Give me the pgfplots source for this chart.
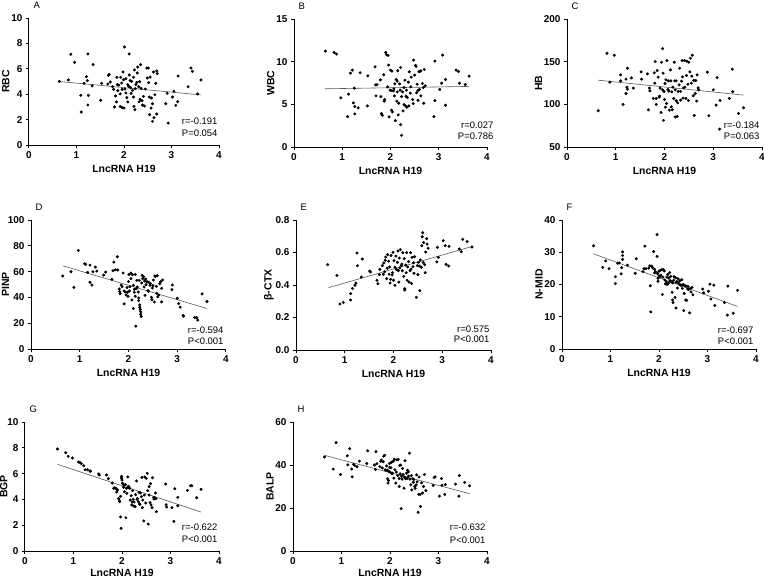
\documentclass[border=0pt]{standalone}
\usepackage{pgfplots}
\pgfplotsset{compat=1.18}
\usepackage{fontspec}
\setmainfont{Liberation Sans}
\pgfplotsset{
  panel/.style={
    scale only axis,
    axis lines*=left,
    axis line style={line width=1bp,-},
    xmin=0,xmax=4,xtick={0,1,2,3,4},
    tick align=outside,
    major tick length=3bp,
    tick style={line width=1bp,black},
    xlabel={LncRNA H19},
    ylabel shift=-5bp,
    label style={font=\bfseries\fontsize{10.5}{12}\selectfont},
    tick label style={font=\bfseries\fontsize{10}{12}\selectfont},
    /pgf/number format/assume math mode=true,
    clip=false,
    anchor=south west,
  },
  pts/.style={only marks,mark=*,mark size=1.3bp,black},
  reg/.style={black!65,line width=0.6bp},
}
\newcommand{\letter}[1]{\node[anchor=base west,font=\fontsize{9.5}{11}\selectfont,xshift=1bp,yshift=10bp] at (rel axis cs:0,1) {#1};}
\newcommand{\stats}[5]{%
  \node[anchor=base east,font=\fontsize{9.5}{11}\selectfont,xshift=#3,yshift=#5] at (rel axis cs:1,0) {#1};
  \node[anchor=base east,font=\fontsize{9.5}{11}\selectfont,xshift=#3,yshift=#4] at (rel axis cs:1,0) {#2};}
\begin{document}
\begin{tikzpicture}
\path[use as bounding box] (0,0) rectangle (764bp,-578bp);
% ---------------- A
\begin{axis}[panel,at={(29bp,-145bp)},width=190bp,height=127bp,ymin=0,ymax=10,ytick={0,2,...,10},ylabel={RBC}]
\addplot[pts] coordinates {(0.64,5.01)(0.83,5.12)(0.88,7.14)(0.96,6.51)(1.09,3.91)(1.10,2.60)(1.16,4.86)(1.21,5.38)(1.23,5.07)(1.24,7.17)(1.25,3.91)(1.24,3.15)(1.33,4.65)(1.35,6.33)(1.51,3.52)(1.53,4.86)(1.66,4.80)(1.67,5.49)(1.69,5.56)(1.71,4.96)(1.76,4.59)(1.78,4.38)(1.80,2.99)(1.82,3.86)(1.84,3.39)(1.85,5.33)(1.86,4.75)(1.87,4.28)(1.89,4.72)(1.92,4.02)(1.92,3.04)(1.93,5.33)(1.95,4.88)(1.96,4.38)(1.96,2.94)(1.98,5.75)(1.99,5.14)(2.00,2.91)(2.01,7.72)(2.02,4.41)(2.04,5.22)(2.04,4.09)(2.06,3.73)(2.08,4.75)(2.08,3.39)(2.10,4.62)(2.11,7.17)(2.11,5.51)(2.13,5.07)(2.14,4.51)(2.15,4.07)(2.16,5.01)(2.18,4.30)(2.20,5.33)(2.20,3.78)(2.21,3.04)(2.22,5.91)(2.23,2.78)(2.24,4.44)(2.25,4.75)(2.27,4.93)(2.28,5.67)(2.29,6.14)(2.31,4.59)(2.32,3.41)(2.33,4.99)(2.34,3.60)(2.35,6.33)(2.36,4.46)(2.38,3.49)(2.39,3.15)(2.41,3.83)(2.43,3.07)(2.45,4.41)(2.48,6.06)(2.49,5.28)(2.51,6.06)(2.52,4.91)(2.53,3.78)(2.54,2.39)(2.55,5.35)(2.57,2.91)(2.58,3.70)(2.60,3.25)(2.60,1.86)(2.62,5.75)(2.63,2.15)(2.65,3.96)(2.67,4.86)(2.69,2.44)(2.69,5.83)(2.70,5.62)(2.88,3.25)(2.91,4.07)(2.93,1.73)(3.02,3.78)(3.05,4.23)(3.09,3.12)(3.13,3.41)(3.14,5.43)(3.35,4.59)(3.41,6.06)(3.44,5.80)(3.55,4.02)(3.62,5.12)};
\addplot[reg] coordinates {(0.64,5.00)(3.63,3.94)};
\letter{A}
\stats{r=-0.191}{P=0.054}{2bp}{9bp}{21bp}
\end{axis}
% ---------------- B
\begin{axis}[panel,at={(294bp,-147bp)},width=193bp,height=128bp,ymin=0,ymax=15,ytick={0,5,10,15},ylabel={WBC}]
\addplot[pts] coordinates {(0.65,11.24)(0.83,11.08)(0.88,10.89)(0.97,5.76)(1.11,3.56)(1.13,6.19)(1.17,8.66)(1.21,9.01)(1.23,5.17)(1.25,6.89)(1.26,4.74)(1.26,3.88)(1.33,4.58)(1.37,8.70)(1.52,4.82)(1.53,8.34)(1.68,9.40)(1.69,7.29)(1.70,5.99)(1.72,7.29)(1.79,7.87)(1.80,5.91)(1.81,3.92)(1.83,3.72)(1.86,8.46)(1.87,5.37)(1.88,5.56)(1.90,11.08)(1.92,10.81)(1.94,7.05)(1.95,10.73)(1.96,9.60)(1.97,3.53)(1.99,6.66)(2.00,9.01)(2.01,6.62)(2.02,4.31)(2.03,8.89)(2.04,4.11)(2.06,6.58)(2.07,6.82)(2.08,5.99)(2.09,7.40)(2.10,3.09)(2.12,7.91)(2.13,5.37)(2.14,7.72)(2.14,6.46)(2.15,8.93)(2.16,3.76)(2.17,5.13)(2.19,7.40)(2.20,6.66)(2.21,2.62)(2.21,9.32)(2.23,1.37)(2.23,5.91)(2.25,6.46)(2.26,4.23)(2.28,4.97)(2.28,6.97)(2.30,7.83)(2.31,4.82)(2.32,5.95)(2.33,6.66)(2.34,4.66)(2.35,5.80)(2.37,7.60)(2.38,4.82)(2.39,8.81)(2.41,6.31)(2.42,7.05)(2.43,8.19)(2.46,5.56)(2.47,5.09)(2.48,10.18)(2.50,8.42)(2.52,9.56)(2.53,9.44)(2.54,6.35)(2.55,7.36)(2.57,5.48)(2.57,6.62)(2.59,8.85)(2.60,6.74)(2.61,8.85)(2.63,5.99)(2.63,8.93)(2.66,7.44)(2.68,6.97)(2.69,5.13)(2.70,9.09)(2.72,7.17)(2.90,3.56)(2.92,5.44)(2.92,10.07)(3.02,6.74)(3.06,7.48)(3.08,10.77)(3.14,7.91)(3.14,4.89)(3.36,9.01)(3.41,8.85)(3.43,7.48)(3.55,7.32)(3.63,8.30)};
\addplot[reg] coordinates {(0.64,6.82)(3.63,7.10)};
\letter{B}
\stats{r=0.027}{P=0.786}{10bp}{8bp}{19bp}
\end{axis}
% ---------------- C
\begin{axis}[panel,at={(567bp,-147bp)},width=195bp,height=128bp,ymin=50,ymax=200,ytick={50,100,150,200},ylabel={HB}]
\addplot[pts] coordinates {(0.64,92.5)(0.82,159.9)(0.88,126.0)(0.97,157.5)(1.10,134.5)(1.10,127.5)(1.15,99.9)(1.21,129.5)(1.21,112.7)(1.23,120.1)(1.24,142.3)(1.24,117.8)(1.32,131.0)(1.36,119.0)(1.52,138.0)(1.53,129.5)(1.65,135.7)(1.67,93.6)(1.69,119.0)(1.70,115.8)(1.77,106.9)(1.79,136.9)(1.80,124.8)(1.81,150.1)(1.83,106.9)(1.83,99.9)(1.85,139.6)(1.87,131.8)(1.89,108.4)(1.90,109.6)(1.91,119.0)(1.93,90.5)(1.94,149.3)(1.96,165.3)(1.96,117.0)(1.97,136.5)(1.98,81.2)(1.99,115.1)(2.00,105.7)(2.01,124.4)(2.02,96.7)(2.03,128.7)(2.04,101.0)(2.05,151.3)(2.07,117.4)(2.08,127.5)(2.09,115.4)(2.10,93.2)(2.12,140.4)(2.13,127.5)(2.14,97.1)(2.15,114.7)(2.16,93.6)(2.17,120.1)(2.19,106.9)(2.20,149.3)(2.21,127.5)(2.22,85.1)(2.22,117.0)(2.24,104.2)(2.24,127.5)(2.26,85.8)(2.27,101.8)(2.28,115.1)(2.30,122.8)(2.31,142.3)(2.33,115.1)(2.33,104.9)(2.35,127.1)(2.36,151.3)(2.37,132.2)(2.38,107.3)(2.39,119.3)(2.41,151.3)(2.42,120.1)(2.44,106.9)(2.45,133.8)(2.46,150.5)(2.48,123.6)(2.49,104.5)(2.50,149.3)(2.52,138.0)(2.53,154.0)(2.55,124.8)(2.56,133.0)(2.57,157.5)(2.59,110.0)(2.60,127.9)(2.61,87.0)(2.63,112.7)(2.64,127.9)(2.66,103.8)(2.67,134.5)(2.69,119.3)(2.70,117.0)(2.88,137.7)(2.91,86.6)(3.00,117.0)(3.06,99.1)(3.08,131.4)(3.13,71.0)(3.14,104.5)(3.33,106.9)(3.39,141.2)(3.40,114.7)(3.52,89.3)(3.62,96.0)};
\addplot[reg] coordinates {(0.64,128.3)(3.62,110.8)};
\letter{C}
\stats{r=-0.184}{P=0.063}{1bp}{8bp}{19bp}
\end{axis}
% ---------------- D
\begin{axis}[panel,at={(31bp,-349bp)},width=195bp,height=129bp,ymin=0,ymax=100,ytick={0,20,...,100},ylabel={PINP},ylabel shift=-8bp]
\addplot[pts] coordinates {(0.65,56.6)(0.82,59.9)(0.88,47.8)(0.97,76.4)(1.10,66.1)(1.12,65.6)(1.16,59.4)(1.21,65.0)(1.21,51.7)(1.25,49.6)(1.27,59.9)(1.32,63.5)(1.35,60.4)(1.49,57.3)(1.53,59.6)(1.66,54.0)(1.68,60.7)(1.70,67.4)(1.73,61.4)(1.77,71.5)(1.78,61.2)(1.81,46.5)(1.82,44.5)(1.83,42.9)(1.85,49.6)(1.87,48.3)(1.89,58.9)(1.91,45.0)(1.91,35.0)(1.93,44.2)(1.95,41.9)(1.97,47.6)(1.98,44.0)(1.99,40.9)(2.00,52.2)(2.01,57.8)(2.02,45.0)(2.03,48.3)(2.05,54.5)(2.05,58.9)(2.07,38.0)(2.08,57.6)(2.10,49.4)(2.10,31.4)(2.12,46.3)(2.12,44.0)(2.14,40.9)(2.14,57.8)(2.15,17.7)(2.16,46.8)(2.17,53.2)(2.18,48.1)(2.20,44.2)(2.21,39.6)(2.21,37.5)(2.22,53.2)(2.23,34.2)(2.23,32.4)(2.24,30.6)(2.25,28.8)(2.25,27.0)(2.26,25.2)(2.27,51.2)(2.28,57.1)(2.29,54.5)(2.31,56.0)(2.32,48.1)(2.33,52.7)(2.34,41.6)(2.35,54.2)(2.36,49.9)(2.38,51.9)(2.38,52.2)(2.40,45.2)(2.41,44.7)(2.42,51.7)(2.44,49.4)(2.45,50.6)(2.47,40.1)(2.48,38.3)(2.49,47.3)(2.50,49.1)(2.51,53.5)(2.53,36.5)(2.54,56.6)(2.55,56.3)(2.57,48.6)(2.58,43.2)(2.59,56.8)(2.60,40.4)(2.62,41.9)(2.64,50.6)(2.66,52.2)(2.68,47.0)(2.68,36.5)(2.70,53.5)(2.89,46.0)(2.90,49.6)(3.00,39.3)(3.03,35.2)(3.06,32.4)(3.12,26.0)(3.13,25.4)(3.36,24.4)(3.40,24.2)(3.42,22.4)(3.51,42.7)(3.61,36.8)};
\addplot[reg] coordinates {(0.65,64.5)(3.61,31.4)};
\letter{D}
\stats{r=-0.594}{P<0.001}{1bp}{5bp}{16bp}
\end{axis}
% ---------------- E
\begin{axis}[panel,at={(296bp,-350bp)},width=195bp,height=130bp,ymin=0,ymax=0.8,ytick={0,0.2,...,0.8},ylabel={β-CTX},yticklabel style={/pgf/number format/.cd,fixed,fixed zerofill,precision=1}]
\addplot[pts] coordinates {(0.65,0.525)(0.84,0.459)(0.90,0.283)(0.97,0.293)(1.12,0.308)(1.12,0.347)(1.16,0.379)(1.21,0.398)(1.23,0.412)(1.25,0.597)(1.26,0.519)(1.34,0.449)(1.36,0.560)(1.51,0.486)(1.53,0.480)(1.66,0.429)(1.68,0.408)(1.71,0.464)(1.72,0.496)(1.77,0.519)(1.79,0.466)(1.80,0.535)(1.82,0.482)(1.83,0.552)(1.84,0.572)(1.86,0.439)(1.87,0.503)(1.88,0.587)(1.90,0.546)(1.91,0.466)(1.92,0.511)(1.93,0.412)(1.94,0.435)(1.95,0.581)(1.97,0.462)(1.98,0.476)(1.99,0.601)(2.00,0.429)(2.01,0.550)(2.03,0.398)(2.03,0.509)(2.05,0.578)(2.06,0.496)(2.08,0.539)(2.09,0.609)(2.10,0.488)(2.11,0.418)(2.12,0.566)(2.13,0.505)(2.14,0.617)(2.16,0.519)(2.17,0.529)(2.18,0.488)(2.19,0.599)(2.21,0.453)(2.22,0.562)(2.23,0.377)(2.23,0.369)(2.25,0.523)(2.26,0.476)(2.27,0.599)(2.28,0.429)(2.29,0.511)(2.31,0.544)(2.32,0.418)(2.34,0.488)(2.35,0.599)(2.36,0.498)(2.37,0.410)(2.38,0.570)(2.40,0.513)(2.41,0.537)(2.42,0.472)(2.43,0.574)(2.47,0.324)(2.49,0.519)(2.50,0.464)(2.51,0.539)(2.53,0.517)(2.54,0.365)(2.55,0.554)(2.57,0.509)(2.58,0.642)(2.59,0.697)(2.60,0.722)(2.61,0.539)(2.62,0.661)(2.64,0.525)(2.65,0.476)(2.66,0.603)(2.68,0.685)(2.69,0.652)(2.71,0.626)(2.89,0.542)(2.90,0.632)(2.92,0.570)(3.02,0.673)(3.06,0.642)(3.08,0.527)(3.13,0.517)(3.14,0.638)(3.35,0.622)(3.39,0.605)(3.42,0.681)(3.51,0.667)(3.61,0.634)};
\addplot[reg] coordinates {(0.67,0.384)(3.62,0.638)};
\letter{E}
\stats{r=0.575}{P<0.001}{2bp}{8bp}{18bp}
\end{axis}
% ---------------- F
\begin{axis}[panel,at={(562bp,-349bp)},width=194bp,height=129bp,ymin=0,ymax=40,ytick={0,10,...,40},ylabel={N-MID}]
\addplot[pts] coordinates {(0.65,32.0)(0.84,25.3)(0.90,27.3)(0.97,24.9)(1.10,22.4)(1.10,20.3)(1.15,26.6)(1.18,26.7)(1.22,23.3)(1.23,25.2)(1.25,30.1)(1.25,29.0)(1.25,27.8)(1.35,26.0)(1.51,23.5)(1.53,28.0)(1.67,24.0)(1.69,24.9)(1.71,31.9)(1.73,24.9)(1.79,25.1)(1.81,25.8)(1.82,19.6)(1.83,11.5)(1.85,25.7)(1.87,25.2)(1.89,30.2)(1.91,24.7)(1.91,23.6)(1.93,23.9)(1.96,28.7)(1.96,35.5)(1.97,23.4)(1.98,21.0)(1.98,21.9)(2.00,24.1)(2.00,22.7)(2.02,22.4)(2.03,24.4)(2.04,22.9)(2.06,24.6)(2.07,16.9)(2.08,22.3)(2.09,24.6)(2.11,24.2)(2.12,21.4)(2.13,20.2)(2.15,20.8)(2.16,22.3)(2.17,20.0)(2.18,23.1)(2.20,22.0)(2.20,20.5)(2.22,23.7)(2.23,21.2)(2.24,22.5)(2.26,20.8)(2.27,17.6)(2.28,20.5)(2.28,15.2)(2.29,14.4)(2.30,21.3)(2.31,22.4)(2.33,16.0)(2.34,22.1)(2.35,20.7)(2.35,12.7)(2.37,20.9)(2.38,18.9)(2.39,21.8)(2.40,20.5)(2.42,20.1)(2.43,21.2)(2.44,19.8)(2.46,19.8)(2.47,21.5)(2.48,18.8)(2.50,20.0)(2.51,11.9)(2.52,17.2)(2.53,19.7)(2.55,15.2)(2.56,19.5)(2.57,15.1)(2.59,18.6)(2.60,19.4)(2.61,18.5)(2.63,11.2)(2.64,18.7)(2.66,17.7)(2.68,19.1)(2.70,16.8)(2.90,18.6)(2.92,17.4)(3.02,17.9)(3.05,20.1)(3.07,15.5)(3.13,19.8)(3.15,13.5)(3.35,14.4)(3.41,10.5)(3.42,19.5)(3.53,11.1)(3.62,18.2)};
\addplot[reg] coordinates {(0.65,29.5)(3.62,13.2)};
\letter{F}
\stats{r=-0.697}{P<0.001}{1bp}{5bp}{16bp}
\end{axis}
% ---------------- G
\begin{axis}[panel,at={(25bp,-551bp)},width=194bp,height=129bp,ymin=0,ymax=10,ytick={0,2,...,10},ylabel={BGP},ylabel shift=-7bp,xlabel style={yshift=2.5bp}]
\addplot[pts] coordinates {(0.67,7.91)(0.84,7.62)(0.89,7.34)(0.98,7.21)(1.10,6.90)(1.13,6.87)(1.16,6.77)(1.21,6.61)(1.24,6.30)(1.29,6.30)(1.34,6.20)(1.35,6.18)(1.52,5.97)(1.53,5.89)(1.68,5.89)(1.72,5.61)(1.80,5.27)(1.83,4.86)(1.85,4.91)(1.88,4.83)(1.89,4.57)(1.91,4.73)(1.93,4.06)(1.95,3.88)(1.95,3.82)(1.97,4.24)(1.97,2.64)(1.98,1.76)(1.99,5.66)(1.99,5.79)(2.00,5.50)(2.01,5.25)(2.03,4.94)(2.04,5.12)(2.05,4.60)(2.07,5.14)(2.08,2.58)(2.09,4.86)(2.10,4.47)(2.12,4.91)(2.12,5.74)(2.13,5.01)(2.14,4.99)(2.16,4.86)(2.17,3.95)(2.19,4.29)(2.20,3.57)(2.21,3.80)(2.22,4.68)(2.23,4.01)(2.24,3.49)(2.25,3.80)(2.27,3.44)(2.28,4.37)(2.30,5.43)(2.31,4.01)(2.32,4.08)(2.34,3.82)(2.35,4.55)(2.36,3.64)(2.37,3.62)(2.38,4.50)(2.40,4.21)(2.41,5.71)(2.42,3.36)(2.43,3.95)(2.45,2.33)(2.46,4.34)(2.47,5.74)(2.49,3.72)(2.50,5.63)(2.52,6.02)(2.53,4.68)(2.54,2.09)(2.56,4.99)(2.56,4.34)(2.58,3.75)(2.59,5.22)(2.60,3.57)(2.62,3.36)(2.63,5.68)(2.65,4.16)(2.66,4.03)(2.67,4.16)(2.69,4.50)(2.70,4.06)(2.71,3.05)(2.90,5.19)(2.91,3.59)(2.92,3.41)(3.03,3.36)(3.07,2.30)(3.09,4.83)(3.15,4.16)(3.15,3.51)(3.35,4.70)(3.41,5.06)(3.44,5.06)(3.54,4.13)(3.63,4.78)};
\addplot[reg] coordinates {(0.67,6.72)(3.63,3.02)};
\letter{G}
\stats{r=-0.622}{P<0.001}{2bp}{9bp}{21bp}
\end{axis}
% ---------------- H
\begin{axis}[panel,at={(293bp,-551bp)},width=194bp,height=129bp,ymin=0,ymax=60,ytick={0,20,40,60},ylabel={BALP},xlabel style={yshift=2.5bp}]
\addplot[pts] coordinates {(0.65,43.7)(0.83,38.1)(0.89,50.4)(0.98,35.6)(1.12,44.3)(1.13,40.1)(1.17,47.6)(1.21,38.1)(1.22,34.5)(1.25,40.3)(1.27,39.8)(1.32,39.2)(1.37,41.8)(1.52,40.7)(1.54,46.6)(1.68,40.0)(1.70,37.9)(1.71,46.2)(1.73,40.6)(1.79,39.2)(1.81,41.7)(1.82,42.3)(1.84,38.6)(1.86,41.5)(1.87,44.1)(1.89,44.5)(1.90,37.8)(1.92,37.5)(1.93,39.6)(1.95,37.6)(1.95,33.6)(1.96,31.6)(1.97,32.8)(1.98,37.0)(1.99,40.7)(1.99,38.9)(2.01,36.5)(2.02,38.7)(2.03,41.3)(2.04,35.9)(2.05,36.2)(2.07,41.8)(2.08,33.9)(2.09,42.7)(2.10,37.8)(2.12,31.6)(2.13,36.7)(2.14,42.4)(2.16,35.1)(2.17,42.6)(2.19,33.7)(2.19,30.0)(2.20,39.8)(2.21,35.9)(2.22,40.0)(2.23,19.7)(2.24,34.7)(2.25,33.4)(2.26,38.4)(2.27,35.6)(2.29,29.2)(2.30,34.4)(2.31,42.0)(2.32,33.7)(2.34,36.2)(2.35,33.7)(2.36,37.6)(2.38,34.8)(2.38,36.8)(2.40,45.5)(2.41,33.4)(2.43,30.8)(2.44,35.1)(2.45,28.4)(2.47,33.6)(2.48,32.0)(2.49,33.3)(2.51,30.0)(2.52,29.1)(2.54,30.8)(2.55,35.4)(2.56,32.2)(2.58,18.0)(2.59,26.4)(2.60,34.4)(2.62,26.3)(2.63,20.7)(2.65,31.7)(2.67,27.0)(2.69,30.0)(2.71,35.6)(2.74,28.1)(2.89,30.5)(2.91,34.2)(2.93,34.5)(3.02,25.5)(3.06,33.7)(3.07,30.6)(3.13,26.3)(3.14,30.9)(3.35,31.1)(3.42,25.5)(3.43,35.1)(3.54,31.9)(3.64,30.3)};
\addplot[reg] coordinates {(0.65,44.5)(3.64,26.7)};
\letter{H}
\stats{r=-0.632}{P<0.001}{2bp}{8bp}{21bp}
\end{axis}
\end{tikzpicture}
\end{document}
